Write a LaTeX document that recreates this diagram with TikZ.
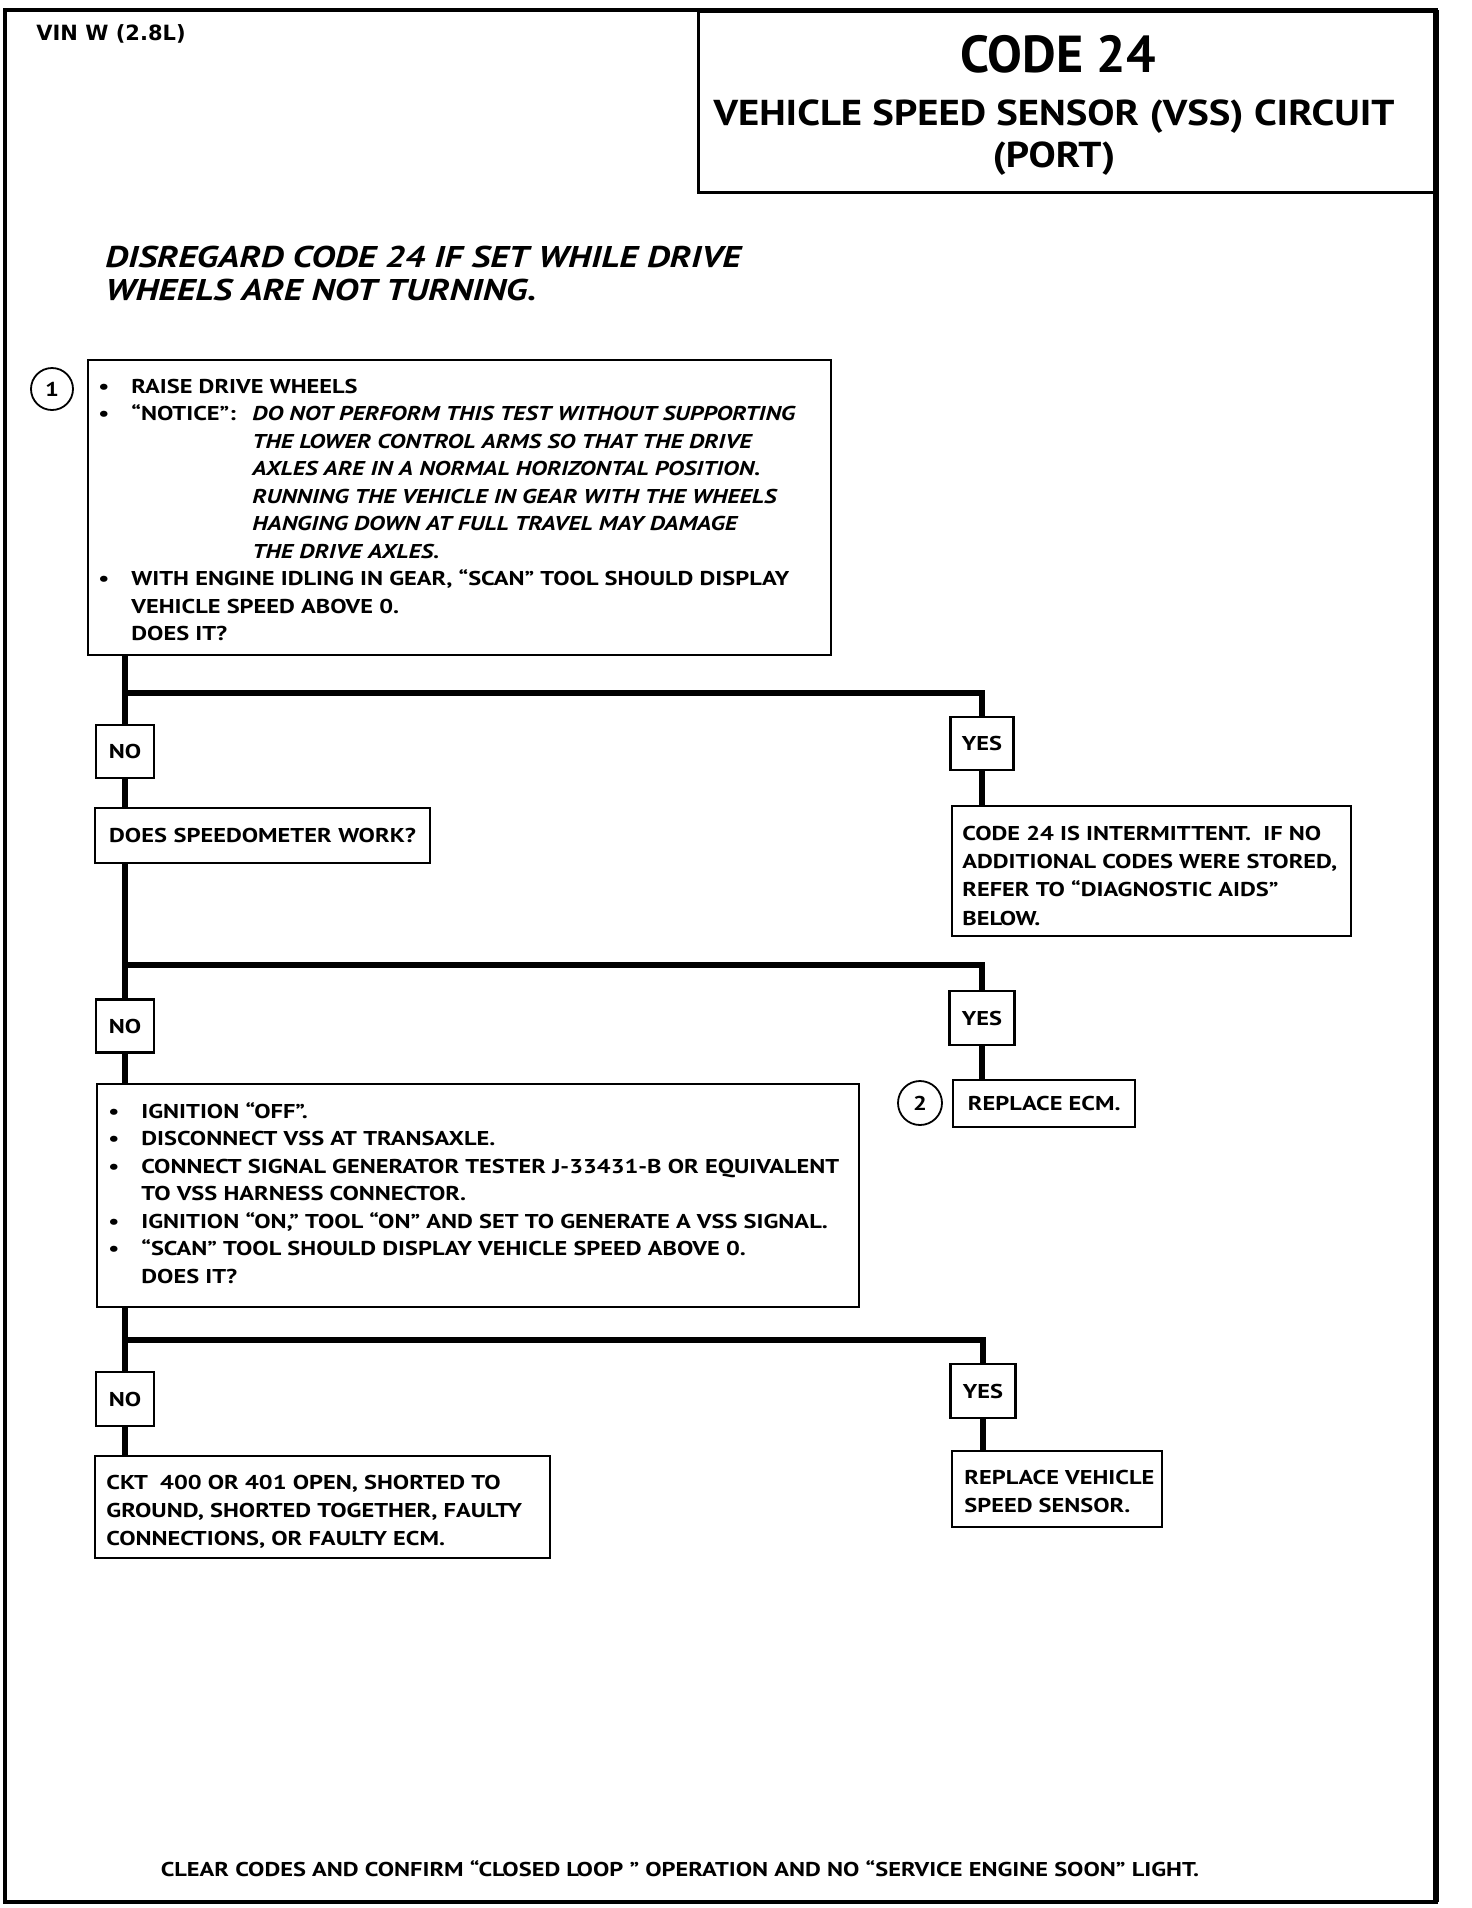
\documentclass[tikz,border=0pt]{standalone}
\usepackage{fontspec}
\setmainfont{PT Sans}[FakeStretch=1.22]
\newfontfamily\codefont{PT Sans}
\newfontfamily\headfont[FakeStretch=1.13]{PT Sans}
\newfontfamily\vinfont{DejaVu Sans}
\newcommand\bul{\leavevmode\llap{\textbullet\hspace{11pt}}}
\newcommand\ind{\hspace*{60.5pt}}

\begin{document}
\begin{tikzpicture}[x=1pt, y=-1pt, font=\bfseries\fontsize{10}{13.75}\selectfont,
    box/.style={draw, line width=1.2pt, inner sep=0pt, anchor=north west},
    tag/.style={draw, line width=1.2pt, inner sep=0pt, minimum width=29pt, minimum height=26.5pt},
    txt/.style={anchor=base west, inner sep=0pt},
    flow/.style={line width=2.6pt},
    num/.style={draw, circle, line width=0.9pt, inner sep=0pt, minimum size=21pt}]

    \useasboundingbox (0,0) rectangle (736,954);

    % page frame and title block
    \draw[line width=2pt] (2.5,5) rectangle (718,951);
    \draw[line width=3pt] (718,5) -- (718,951);
    \node at (348.5,5) (title) [box, line width=1.5pt, minimum width=369.5pt, minimum height=90.5pt] {};
    \node at (529,27) (code) {\codefont\fontsize{26}{30}\selectfont CODE 24};
    \node at (527,58.5) (vssc) {\headfont\fontsize{18}{21}\selectfont VEHICLE SPEED SENSOR (VSS) CIRCUIT};
    \node at (527,79.5) (port) {\headfont\fontsize{18}{21}\selectfont (PORT)};
    \node at (18,20) (vin) [txt] {\vinfont\fontsize{10.5}{12}\selectfont VIN W (2.8L)};

    \node at (52.5,133.5) (note) [txt] {\parbox[t]{420pt}{\fontsize{15}{16.5}\selectfont\itshape
        DISREGARD CODE 24 IF SET WHILE DRIVE\\ WHEELS ARE NOT TURNING.}};

    % step 1
    \node at (43.5,179.5) (q1) [box, minimum width=371.5pt, minimum height=147.5pt] {};
    \node at (65.5,196.5) (q1t) [txt] {\parbox[t]{360pt}{%
        \bul RAISE DRIVE WHEELS\\
        \bul \makebox[60.5pt][l]{“NOTICE”:}\textit{DO NOT PERFORM THIS TEST WITHOUT SUPPORTING}\\
        \ind\textit{THE LOWER CONTROL ARMS SO THAT THE DRIVE}\\
        \ind\textit{AXLES ARE IN A NORMAL HORIZONTAL POSITION.}\\
        \ind\textit{RUNNING THE VEHICLE IN GEAR WITH THE WHEELS}\\
        \ind\textit{HANGING DOWN AT FULL TRAVEL MAY DAMAGE}\\
        \ind\textit{THE DRIVE AXLES.}\\
        \bul WITH ENGINE IDLING IN GEAR, “SCAN” TOOL SHOULD DISPLAY\\
        VEHICLE SPEED ABOVE 0.\\
        DOES IT?}};
    \node at (26,194.5) (n1) [num] {1};

    \node at (62.5,375.75) (no1) [tag] {NO};
    \node at (491,371.75) (yes1) [tag, minimum width=31.5pt] {YES};
    \node at (47,403.5) (speedo) [box, minimum height=27.5pt, text width=153.5pt, inner xsep=7pt] {DOES SPEEDOMETER WORK?};
    \node at (475.5,402.5) (intm) [box, minimum width=199.5pt, minimum height=65pt] {};
    \node at (481,420) (intmt) [txt] {\parbox[t]{195pt}{\baselineskip=14.2pt
        CODE 24 IS INTERMITTENT.\ \ IF NO\\ ADDITIONAL CODES WERE STORED,\\
        REFER TO “DIAGNOSTIC AIDS”\\ BELOW.}};

    % step 2
    \node at (62.5,513) (no2) [tag] {NO};
    \node at (491,509) (yes2) [tag, minimum width=32.5pt, minimum height=27pt] {YES};
    \node at (476,539.5) (ecm) [box, minimum width=91pt, minimum height=23.5pt] {REPLACE ECM.};
    \node at (460,551.5) (n2) [num, minimum size=22pt] {2};

    \node at (48,541.5) (q3) [box, minimum width=381pt, minimum height=111.5pt] {};
    \node at (70.5,559) (q3t) [txt] {\parbox[t]{370pt}{%
        \bul IGNITION “OFF”.\\
        \bul DISCONNECT VSS AT TRANSAXLE.\\
        \bul CONNECT SIGNAL GENERATOR TESTER\ J-33431-B OR EQUIVALENT\\
        TO VSS HARNESS CONNECTOR.\\
        \bul IGNITION “ON,” TOOL “ON” AND SET TO GENERATE A VSS SIGNAL.\\
        \bul “SCAN” TOOL\ SHOULD DISPLAY VEHICLE SPEED\ ABOVE 0.\\
        DOES IT?}};

    % step 3
    \node at (62.5,699.5) (no3) [tag, minimum height=27pt] {NO};
    \node at (491.5,695.5) (yes3) [tag, minimum width=32.5pt, minimum height=27pt] {YES};
    \node at (47,727.5) (ckt) [box, minimum width=227.5pt, minimum height=51pt] {};
    \node at (53,744.5) (cktt) [txt] {\parbox[t]{220pt}{\baselineskip=14pt
        CKT\ \ 400 OR 401 OPEN, SHORTED TO\\ GROUND, SHORTED TOGETHER, FAULTY\\
        CONNECTIONS, OR FAULTY ECM.}};
    \node at (475.5,725) (vss) [box, minimum width=105pt, minimum height=38pt] {};
    \node at (482,742) (vsst) [txt] {\parbox[t]{100pt}{\baselineskip=14pt
        REPLACE VEHICLE\\ SPEED SENSOR.}};

    \node at (340,938) (clear) [anchor=base] {CLEAR CODES AND CONFIRM “CLOSED LOOP ” OPERATION AND NO “SERVICE ENGINE SOON” LIGHT.};

    % flow lines
    \coordinate (j1) at (62.5,346.5);
    \coordinate (j2) at (62.5,482.5);
    \coordinate (j3) at (62.5,670);
    \draw[flow] (q1.south -| no1) -- (no1.north);
    \draw[flow] (j1) -| (yes1.north);
    \draw[flow] (no1.south) -- (no1.south |- speedo.north);
    \draw[flow] (yes1.south) -- (yes1.south |- intm.north);
    \draw[flow] (speedo.south -| no2) -- (no2.north);
    \draw[flow] (j2) -| (yes2.north);
    \draw[flow] (no2.south) -- (no2.south |- q3.north);
    \draw[flow] (yes2.south) -- (yes2.south |- ecm.north);
    \draw[flow] (q3.south -| no3) -- (no3.north);
    \draw[flow] (j3) -| (yes3.north);
    \draw[flow] (no3.south) -- (no3.south |- ckt.north);
    \draw[flow] (yes3.south) -- (yes3.south |- vss.north);

\end{tikzpicture}
\end{document}
